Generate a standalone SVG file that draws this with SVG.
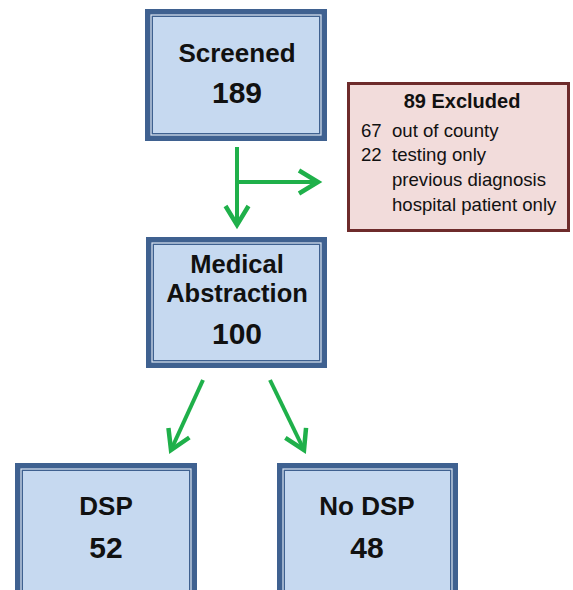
<svg xmlns="http://www.w3.org/2000/svg" width="573" height="590" viewBox="0 0 573 590">
<defs>
<style>
.box{fill:#c6d9f0;stroke:#3f6190;stroke-width:8}
.gap{fill:none;stroke:#dbe5f2;stroke-width:1.2}
.t{font-family:"Liberation Sans",Arial,sans-serif;font-weight:bold;fill:#111;text-anchor:middle}
.ex{font-family:"Liberation Sans",Arial,sans-serif;fill:#111;font-size:18.6px}
.conn{stroke:#1fb04a;stroke-width:4;fill:none}
</style>
<marker id="ah" markerWidth="8" markerHeight="10" viewBox="0 0 8 10" refX="4" refY="5" orient="auto" markerUnits="userSpaceOnUse" overflow="visible">
<polyline points="-15,-6.5 4,5 -15,16.5" fill="none" stroke="#1fb04a" stroke-width="4.5"/>
</marker>
</defs>
<rect width="573" height="590" fill="#fff"/>
<g id="connectors">
<line class="conn" x1="237" y1="147" x2="237" y2="225" marker-end="url(#ah)"/>
<line class="conn" x1="237" y1="182" x2="318" y2="182" marker-end="url(#ah)"/>
<line class="conn" x1="203" y1="380" x2="171" y2="450" marker-end="url(#ah)"/>
<line class="conn" x1="270" y1="380" x2="304" y2="450" marker-end="url(#ah)"/>
</g>
<g id="screened">
<rect class="box" x="149" y="13" width="174" height="124"/>
<rect class="gap" x="151" y="15" width="170" height="120"/>
<text class="t" x="237" y="62" font-size="26">Screened</text>
<text class="t" x="237" y="103" font-size="30">189</text>
</g>
<g id="excluded">
<rect x="348.5" y="83.5" width="220" height="147" fill="#f2dcdb" stroke="#6e2b2b" stroke-width="3"/>
<text class="t" x="462" y="108" font-size="20">89 Excluded</text>
<text class="ex" x="361" y="137">67</text>
<text class="ex" x="392" y="137">out of county</text>
<text class="ex" x="361" y="161">22</text>
<text class="ex" x="392" y="161">testing only</text>
<text class="ex" x="392" y="186">previous diagnosis</text>
<text class="ex" x="392" y="211">hospital patient only</text>
</g>
<g id="medical">
<rect class="box" x="150" y="241" width="173" height="123"/>
<rect class="gap" x="152" y="243" width="169" height="119"/>
<text class="t" x="237" y="273" font-size="25.5">Medical</text>
<text class="t" x="237" y="302" font-size="25.5">Abstraction</text>
<text class="t" x="237" y="344" font-size="30">100</text>
</g>
<g id="dsp">
<rect class="box" x="19" y="467" width="174" height="127"/>
<rect class="gap" x="21" y="469" width="170" height="123"/>
<text class="t" x="106" y="515" font-size="26">DSP</text>
<text class="t" x="106" y="558" font-size="30">52</text>
</g>
<g id="nodsp">
<rect class="box" x="281" y="467" width="173" height="127"/>
<rect class="gap" x="283" y="469" width="169" height="123"/>
<text class="t" x="367" y="515" font-size="26">No DSP</text>
<text class="t" x="367" y="558" font-size="30">48</text>
</g>
</svg>
